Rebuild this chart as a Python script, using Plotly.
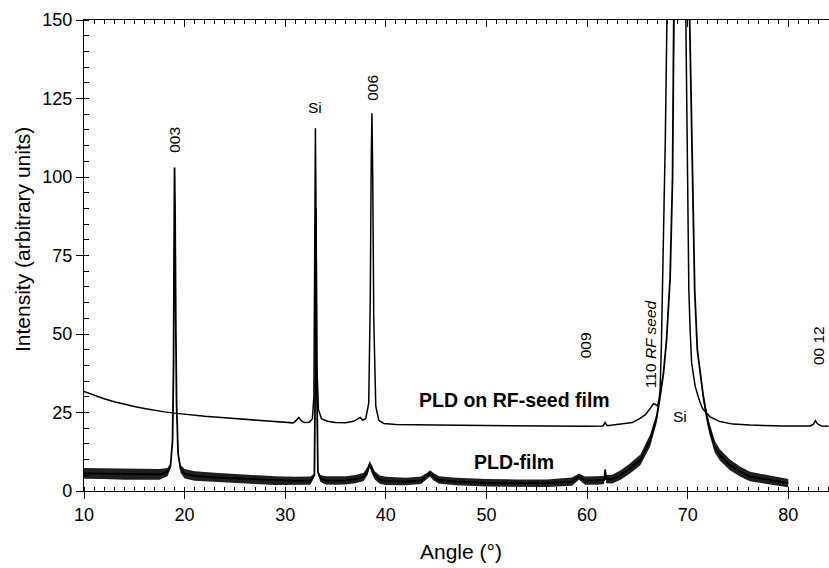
import plotly.graph_objects as go

# ---- data ----
rf_angle = [10, 11, 12, 13, 14, 15, 16, 17, 18, 19, 20, 22, 24, 26, 28, 30, 30.8, 31.1, 31.35, 31.6, 31.9,
            32.4, 32.7, 32.85, 32.95, 33.0, 33.05, 33.15, 33.3, 33.6, 34.2, 35, 36, 36.8, 37.2, 37.45, 37.7,
            38.0, 38.3, 38.45, 38.55, 38.62, 38.7, 38.8, 39.0, 39.3, 39.8, 41, 45, 50, 55, 60, 61.6, 61.8,
            62.0, 63.3, 64.5, 65.3, 65.8, 66.3, 66.6, 66.8, 67.0, 67.15, 67.26, 67.38, 67.5, 67.62, 67.78,
            67.94, 68.3, 68.8, 69.3, 69.8, 69.95, 70.05, 70.12, 70.25, 70.4, 70.75, 71.2, 71.5, 72.2, 73.2,
            74.5, 76.2, 79.5, 82.2, 82.5, 82.7, 82.9, 83.3, 84]
rf_intensity = [31.7, 30.5, 29.4, 28.4, 27.6, 26.9, 26.3, 25.7, 25.2, 24.8, 24.4, 23.8, 23.3, 22.8, 22.3, 21.8,
                21.7, 22.5, 23.4, 22.4, 21.8, 21.9, 23.0, 30, 80, 115.5, 95, 40, 26, 23, 22.2, 21.8, 21.7,
                22.2, 23.0, 23.4, 22.6, 23.0, 28, 60, 105, 120.3, 100, 55, 27, 22.5, 21.5, 21.2, 21.0, 20.8,
                20.6, 20.6, 20.7, 21.8, 20.8, 21.3, 21.8, 23.2, 24.3, 26.4, 27.8, 27.6, 27.1, 29, 32, 45, 62,
                82, 112, 150, 260, 400, 300, 150, 110, 82, 64, 51, 40.7, 33.3, 28.5, 26.2, 23.7, 22.1, 21.3,
                21.0, 20.7, 20.7, 21.3, 22.4, 21.4, 20.7, 20.6]

pld_angle = [10, 12, 14, 16, 17.5, 18.3, 18.6, 18.8, 18.9, 18.95, 19.0, 19.05, 19.12, 19.2, 19.35, 19.6, 20.0,
             21, 23, 25, 27, 29, 31, 32.5, 32.9, 33.0, 33.06, 33.12, 33.25, 33.5, 34, 35, 36, 37, 37.8, 38.2,
             38.4, 38.6, 38.9, 39.4, 40, 42, 43.5, 44.1, 44.4, 44.7, 45.3, 47, 50, 53, 56, 58.5, 59.2, 59.8,
             61.0, 61.7, 61.8, 61.9, 62.5, 63.3, 64.2, 65.3, 66.26, 66.9, 67.26, 67.6, 67.9, 68.14, 68.26,
             68.5, 68.7, 69.45, 70.2, 70.45, 70.7, 70.96, 71.24, 71.56, 71.9, 72.2, 72.7, 73.2, 74.2, 75.2,
             76.2, 77.9, 79.8, 80]
pld_intensity = [5.6, 5.5, 5.3, 5.2, 5.3, 6.0, 8, 16, 40, 75, 103, 90, 55, 28, 12, 7, 5.5,
                 4.8, 4.3, 4.0, 3.6, 3.3, 3.2, 3.3, 5, 40, 90, 40, 6, 4, 3.4, 3.3, 3.4, 3.8, 4.5, 6.5,
                 8.6, 7, 5, 3.6, 3.2, 3.0, 3.4, 4.8, 5.6, 4.6, 3.5, 3.0, 2.6, 2.5, 2.5, 3.0, 4.6, 3.3,
                 3.3, 3.5, 6.8, 3.8, 3.8, 5.0, 7.0, 9.9, 16, 23, 30, 37.6, 48, 61, 68,
                 100, 150, 500, 150, 100, 64, 45, 37.6, 30, 23.7, 19.5, 14.1, 11.5, 8.3, 6.2,
                 4.6, 3.7, 2.6, 2.5]
# half-thickness of the noise band seen around the PLD-film trace
pld_noise = [1.7, 1.7, 1.7, 1.7, 1.7, 1.3, 0.8, 0, 0, 0, 0, 0, 0, 0, 0.6, 1.3, 1.5,
             1.5, 1.5, 1.4, 1.4, 1.4, 1.3, 1.3, 0.6, 0, 0, 0, 0.5, 1.1, 1.3, 1.3, 1.3, 1.3, 1.3, 1.3,
             1.0, 1.3, 1.3, 1.3, 1.3, 1.2, 1.2, 1.0, 1.0, 1.2, 1.2, 1.2, 1.2, 1.2, 1.2, 1.3, 1.0, 1.3,
             1.3, 1.3, 0.4, 1.3, 1.4, 1.5, 1.6, 1.7, 1.9, 1.6, 1.2, 0.8, 0, 0, 0,
             0, 0, 0, 0, 0, 0, 0, 0.8, 1.3, 1.7, 1.9, 1.9, 1.8, 1.7, 1.6,
             1.5, 1.4, 1.3, 1.3]

x_ticks = [10, 20, 30, 40, 50, 60, 70, 80]
y_ticks = [0, 25, 50, 75, 100, 125, 150]

FONT = "Liberation Sans, Arial, Helvetica, sans-serif"

fig = go.Figure()
band_hi = [v + n for v, n in zip(pld_intensity, pld_noise)]
band_lo = [v - n for v, n in zip(pld_intensity, pld_noise)]
fig.add_trace(go.Scatter(x=pld_angle + pld_angle[::-1], y=band_hi + band_lo[::-1], mode="lines",
                         fill="toself", fillcolor="rgba(0,0,0,0.88)", line=dict(width=0),
                         hoverinfo="skip", showlegend=False))
fig.add_trace(go.Scatter(x=pld_angle, y=pld_intensity, mode="lines", name="PLD-film",
                         line=dict(color="black", width=1.8)))
fig.add_trace(go.Scatter(x=rf_angle, y=rf_intensity, mode="lines", name="PLD on RF-seed film",
                         line=dict(color="black", width=1.5)))
# invisible trace to carry the top axis
fig.add_trace(go.Scatter(x=[10, 84], y=[0, 0], xaxis="x2", mode="lines",
                         line=dict(width=0), hoverinfo="skip", showlegend=False))

axis_common = dict(showgrid=False, zeroline=False, showline=True, linecolor="black", linewidth=1.2,
                   tickcolor="black", tickfont=dict(family=FONT, size=18, color="black"))

fig.update_layout(
    width=829, height=568,
    margin=dict(l=84, r=0, t=20, b=77, autoexpand=False),
    paper_bgcolor="white", plot_bgcolor="white",
    showlegend=False,
    xaxis=dict(range=[10, 84.05], tickvals=x_ticks, ticks="outside", ticklen=7, tickwidth=1.2,
               minor=dict(dtick=1, ticks="inside", ticklen=4, tickcolor="black", tickwidth=1),
               **axis_common),
    xaxis2=dict(range=[10, 84.05], overlaying="x", side="top", tickvals=x_ticks, ticks="inside",
                ticklen=7, tickwidth=1.2, showticklabels=False,
                minor=dict(dtick=1, ticks="inside", ticklen=4, tickcolor="black", tickwidth=1),
                showgrid=False, zeroline=False, showline=True, linecolor="black", linewidth=1.2,
                tickcolor="black"),
    yaxis=dict(range=[0, 150], tickvals=y_ticks, ticks="outside", ticklen=7, tickwidth=1.2,
               minor=dict(dtick=5, ticks="inside", ticklen=5, tickcolor="black", tickwidth=1),
               **axis_common),
)

ann_font = dict(family=FONT, size=15.5, color="black")
labels = [
    (19.0, 111.7, "003", -90),
    (33.0, 122.0, "Si", 0),
    (38.65, 128.5, "006", -90),
    (59.8, 46.4, "009", -90),
    (66.3, 46.9, "110 <i>RF seed</i>", -90),
    (69.25, 23.7, "Si", 0),
    (83.0, 46.3, "00 12", -90),
]
for x, y, t, a in labels:
    fig.add_annotation(x=x, y=y, xref="x", yref="y", text=t, textangle=a, showarrow=False,
                       font=ann_font, xanchor="center", yanchor="middle")

bold_font = dict(family=FONT, size=19.5, color="black")
fig.add_annotation(x=52.75, y=29.0, xref="x", yref="y", text="<b>PLD on RF-seed film</b>",
                   showarrow=False, font=bold_font, xanchor="center", yanchor="middle")
fig.add_annotation(x=52.7, y=9.1, xref="x", yref="y", text="<b>PLD-film</b>",
                   showarrow=False, font=bold_font, xanchor="center", yanchor="middle")

title_font = dict(family=FONT, size=21, color="black")
fig.add_annotation(x=(460.5 - 84) / 745, y=(491 - 551) / 471, xref="paper", yref="paper",
                   text="Angle (°)", showarrow=False, font=title_font, xanchor="center", yanchor="middle")
fig.add_annotation(x=(22 - 84) / 745, y=(491 - 240) / 471, xref="paper", yref="paper",
                   text="Intensity (arbitrary units)", textangle=-90, showarrow=False, font=title_font,
                   xanchor="center", yanchor="middle")

fig.write_html("out.html", config={"displayModeBar": False},
               post_script="document.body.style.margin='0';document.body.style.overflow='hidden';")
